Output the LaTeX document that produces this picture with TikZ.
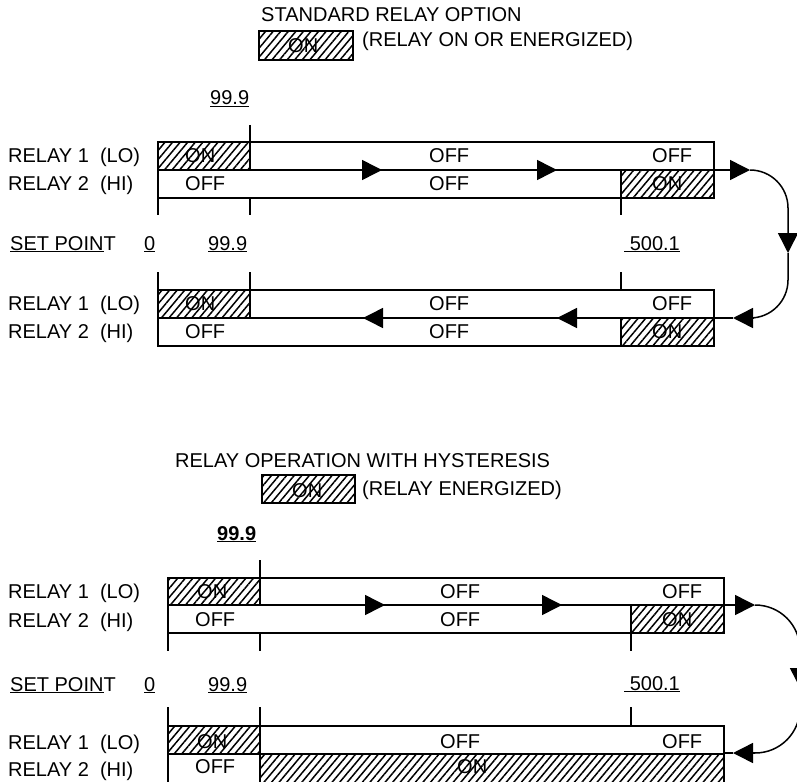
\documentclass[tikz,border=0pt]{standalone}
\usepackage{fontspec}
\setmainfont{Liberation Sans}
\usetikzlibrary{arrows.meta,patterns.meta}

\begin{document}
\begin{tikzpicture}[x=1pt, y=-1pt,
    font=\fontsize{20}{24}\selectfont,
    lbl/.style={anchor=base west, inner sep=0pt},
    bar/.style={line width=1.5pt},
    hatch/.style={draw, line width=1.5pt,
        pattern={Lines[angle=50, distance=5.8pt, line width=1.5pt]}},
    flow/.style={-{Triangle[length=20pt, width=20pt]}, line width=1.5pt},
    loop/.style={line width=1.5pt}
]
    \useasboundingbox (0,0) rectangle (797,781);
    \clip (0,0) rectangle (797,781);

    % standard relay option
    \node[lbl] (titleA) at (261,22) {STANDARD RELAY OPTION};
    \draw[hatch] (259,31) rectangle (353,60);
    \node[lbl] (legonA) at (288,53) {ON};
    \node[lbl] (legA) at (362,47) {(RELAY ON OR ENERGIZED)};
    \node[lbl] (lowA) at (210,105) {\underline{99.9}};

    \draw[hatch] (158,142) rectangle (250,170);
    \draw[hatch] (621,170) rectangle (714,198);
    \draw[bar] (158,142) rectangle (714,198);
    \draw[bar] (158,170) -- (714,170);
    \draw[bar] (250,125) -- (250,142);
    \draw[bar] (158,198) -- (158,215);
    \draw[bar] (250,198) -- (250,215);
    \draw[bar] (621,198) -- (621,215);

    \node[lbl] (r1A) at (8,162) {RELAY 1\ \ (LO)};
    \node[lbl] (r2A) at (8,190) {RELAY 2\ \ (HI)};
    \node[lbl] (onA1) at (185,162) {ON};
    \node[lbl] (offA1) at (185,190) {OFF};
    \node[lbl] (offA2) at (429,162) {OFF};
    \node[lbl] (offA3) at (429,190) {OFF};
    \node[lbl] (offA4) at (652,162) {OFF};
    \node[lbl] (onA2) at (652,190) {ON};

    \node[lbl] (spA) at (10,250) {\underline{SET POIN}T};
    \node[lbl] (zeroA) at (144,250) {\underline{0}};
    \node[lbl] (loA) at (208,250) {\underline{99.9}};
    \node[lbl] (hiA) at (624,250) {\underline{\ 500.1}};

    \draw[hatch] (158,290) rectangle (250,318);
    \draw[hatch] (621,318) rectangle (714,346);
    \draw[bar] (158,290) rectangle (714,346);
    \draw[bar] (158,318) -- (714,318);
    \draw[bar] (158,272) -- (158,290);
    \draw[bar] (250,272) -- (250,290);
    \draw[bar] (621,272) -- (621,290);

    \node[lbl] (r1B) at (8,310) {RELAY 1\ \ (LO)};
    \node[lbl] (r2B) at (8,338) {RELAY 2\ \ (HI)};
    \node[lbl] (onB1) at (185,310) {ON};
    \node[lbl] (offB1) at (185,338) {OFF};
    \node[lbl] (offB2) at (429,310) {OFF};
    \node[lbl] (offB3) at (429,338) {OFF};
    \node[lbl] (offB4) at (652,310) {OFF};
    \node[lbl] (onB2) at (652,338) {ON};

    \coordinate (aIn) at (250,170);
    \coordinate (aM1) at (382,170);
    \coordinate (aM2) at (557,170);
    \coordinate (aEnd) at (714,170);
    \coordinate (aOut) at (750,170);
    \coordinate (aDown) at (788,253);
    \coordinate (bIn) at (750,318);
    \coordinate (bTip) at (733,318);
    \coordinate (bEnd) at (714,318);
    \coordinate (bM1) at (557,318);
    \coordinate (bM2) at (363,318);

    \draw[flow] (aIn) -- (aM1);
    \draw[flow] (aM1) -- (aM2);
    \draw[flow] (aEnd) -- (aOut);
    \draw[flow] (aOut) .. controls +(21,0) and +(0,-21) .. (788,208) -- (aDown);
    \draw[loop] (aDown) -- (788,280) .. controls +(0,21) and +(21,0) .. (bIn);
    \draw[flow] (753,318) -- (bTip);
    \draw[loop] (bTip) -- (bEnd);
    \draw[flow] (621,318) -- (bM1);
    \draw[flow] (450,318) -- (bM2);

    % relay operation with hysteresis
    \node[lbl] (titleC) at (175,467) {RELAY OPERATION WITH HYSTERESIS};
    \draw[hatch] (262,475) rectangle (355,503);
    \node[lbl] (legonC) at (292,497) {ON};
    \node[lbl] (legC) at (362,495) {(RELAY ENERGIZED)};
    \node[lbl] (lowC) at (217,540) {\textbf{\underline{99.9}}};

    \draw[hatch] (168,578) rectangle (260,605);
    \draw[hatch] (631,605) rectangle (724,633);
    \draw[bar] (168,578) rectangle (724,633);
    \draw[bar] (168,605) -- (724,605);
    \draw[bar] (260,560) -- (260,578);
    \draw[bar] (168,633) -- (168,651);
    \draw[bar] (260,633) -- (260,651);
    \draw[bar] (631,633) -- (631,651);

    \node[lbl] (r1C) at (8,598) {RELAY 1\ \ (LO)};
    \node[lbl] (r2C) at (8,627) {RELAY 2\ \ (HI)};
    \node[lbl] (onC1) at (197,598) {ON};
    \node[lbl] (offC1) at (195,626) {OFF};
    \node[lbl] (offC2) at (440,598) {OFF};
    \node[lbl] (offC3) at (440,626) {OFF};
    \node[lbl] (offC4) at (662,598) {OFF};
    \node[lbl] (onC2) at (662,626) {ON};

    \node[lbl] (spC) at (10,691) {\underline{SET POIN}T};
    \node[lbl] (zeroC) at (144,691) {\underline{0}};
    \node[lbl] (loC) at (208,691) {\underline{99.9}};
    \node[lbl] (hiC) at (624,690) {\underline{\ 500.1}};

    \draw[hatch] (168,726) rectangle (260,754);
    \draw[hatch] (260,754) rectangle (724,783);
    \draw[bar] (168,726) rectangle (724,783);
    \draw[bar] (168,754) -- (724,754);
    \draw[bar] (168,707) -- (168,726);
    \draw[bar] (260,707) -- (260,726);
    \draw[bar] (631,707) -- (631,726);

    \node[lbl] (r1D) at (8,749) {RELAY 1\ \ (LO)};
    \node[lbl] (r2D) at (8,776) {RELAY 2\ \ (HI)};
    \node[lbl] (onD1) at (197,748) {ON};
    \node[lbl] (offD1) at (195,773) {OFF};
    \node[lbl] (offD2) at (440,748) {OFF};
    \node[lbl] (offD3) at (662,748) {OFF};
    \node[lbl] (onD2) at (457,773) {ON};

    \coordinate (cIn) at (260,605);
    \coordinate (cM1) at (385,605);
    \coordinate (cM2) at (562,605);
    \coordinate (cEnd) at (724,605);
    \coordinate (cOut) at (755,605);
    \coordinate (cDown) at (800,688);
    \coordinate (dIn) at (755,753);
    \coordinate (dTip) at (733,753);
    \coordinate (dEnd) at (724,753);

    \draw[flow] (cIn) -- (cM1);
    \draw[flow] (cM1) -- (cM2);
    \draw[flow] (cEnd) -- (cOut);
    \draw[flow] (cOut) .. controls +(25,0) and +(0,-25) .. (800,650) -- (cDown);
    \draw[loop] (cDown) -- (800,708) .. controls +(0,25) and +(25,0) .. (dIn);
    \draw[flow] (dIn) -- (dTip);
    \draw[loop] (dTip) -- (dEnd);
\end{tikzpicture}
\end{document}
